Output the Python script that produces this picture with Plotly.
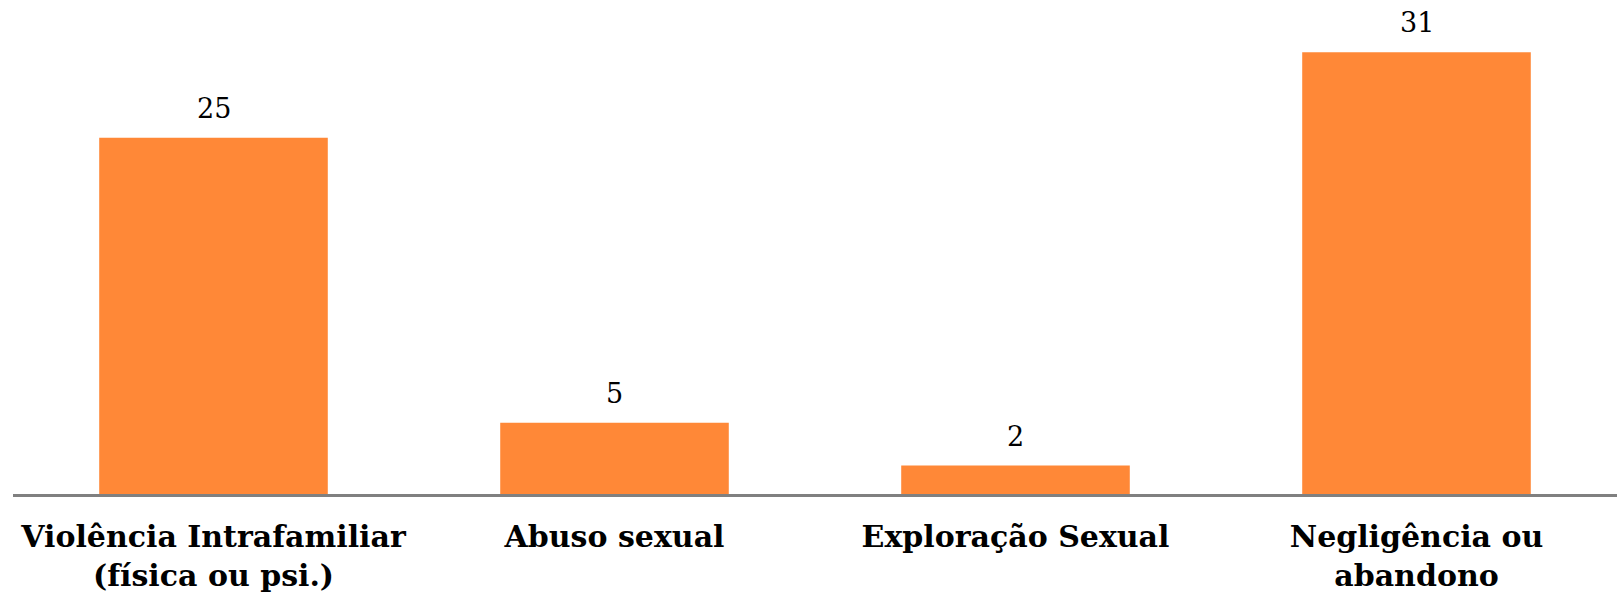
import plotly.graph_objects as go

categories = ["Violência Intrafamiliar<br>(física ou psi.)", "Abuso sexual", "Exploração Sexual", "Negligência ou<br>abandono"]
values = [25, 5, 2, 31]

fig = go.Figure(go.Bar(
    x=categories, y=values,
    marker=dict(color="#FF8837", line=dict(width=0)),
    cliponaxis=False,
))
for c, v in zip(categories, values):
    fig.add_annotation(x=c, y=v, text=str(v), showarrow=False, yanchor="bottom",
                       yshift=13, borderpad=0,
                       font=dict(family="DejaVu Serif", size=27, color="#000000"))
fig.update_layout(
    width=1622, height=593,
    margin=dict(l=13, r=5, t=16, b=99, autoexpand=False),
    paper_bgcolor="white", plot_bgcolor="white",
    bargap=0.43, showlegend=False,
    xaxis=dict(showline=True, linecolor="#808080", linewidth=2.5, ticks="",
               tickfont=dict(family="DejaVu Serif", size=30, color="#000000", weight="bold"),
               showgrid=False, tickangle=0, ticklabelstandoff=14, automargin=False),
    yaxis=dict(visible=False, range=[0, 33.54], showgrid=False, zeroline=False),
)
fig.write_html("out.html", config={"displayModeBar": False},
               post_script="document.body.style.margin='0';document.body.style.overflow='hidden';")
